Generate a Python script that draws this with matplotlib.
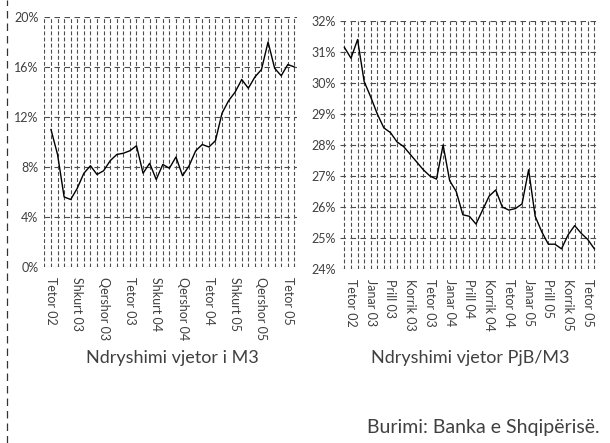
import matplotlib
matplotlib.use("Agg")
import matplotlib.pyplot as plt
from matplotlib.lines import Line2D
import numpy as np

plt.rcParams['font.family'] = ['Lato', 'DejaVu Sans']

# Left chart: annual change of M3 (%), monthly from Tetor 02
m3_months = list(range(0, 38))
m3_values = [11.0, 9.0, 5.6, 5.4, 6.3, 7.5, 8.1, 7.4, 7.7, 8.5,
             9.0, 9.1, 9.3, 9.7, 7.5, 8.3, 7.0, 8.2, 7.9, 8.8,
             7.3, 8.1, 9.3, 9.8, 9.6, 10.1, 12.3, 13.3, 14.0, 15.0,
             14.3, 15.2, 15.8, 18.0, 15.9, 15.3, 16.2, 16.0]
m3_tick_pos = [0, 4, 8, 12, 16, 20, 24, 28, 32, 36]
m3_tick_labels = ["Tetor 02", "Shkurt 03", "Qershor 03", "Tetor 03", "Shkurt 04",
                  "Qershor 04", "Tetor 04", "Shkurt 05", "Qershor 05", "Tetor 05"]
m3_yticks = [0, 4, 8, 12, 16, 20]

# Right chart: PjB/M3 (%)
pjb_months = list(range(-1, 38))
pjb_values = [31.15, 30.8, 31.4, 30.05, 29.55, 29.0, 28.55, 28.4, 28.1, 27.95,
              27.7, 27.45, 27.2, 27.0, 26.9, 28.0, 26.85, 26.5, 25.75, 25.7,
              25.45, 25.9, 26.35, 26.55, 26.0, 25.9, 25.95, 26.1, 27.2, 25.7,
              25.2, 24.8, 24.8, 24.65, 25.1, 25.4, 25.15, 24.95, 24.65]
pjb_tick_pos = [0, 3, 6, 9, 12, 15, 18, 21, 24, 27, 30, 33, 36]
pjb_tick_labels = ["Tetor 02", "Janar 03", "Prill 03", "Korrik 03", "Tetor 03",
                   "Janar 04", "Prill 04", "Korrik 04", "Tetor 04", "Janar 05",
                   "Prill 05", "Korrik 05", "Tetor 05"]
pjb_yticks = [24, 25, 26, 27, 28, 29, 30, 31, 32]

W, H = 610, 443
fig = plt.figure(figsize=(W / 100, H / 100), dpi=100)
fig.patch.set_facecolor('white')

def px_axes(x0, y0, x1, y1):
    return fig.add_axes([x0 / W, 1 - y1 / H, (x1 - x0) / W, (y1 - y0) / H])

txt_color = '#404040'
grid_color = '#4d4d4d'

def style(ax, xlim, ylim, yticks, xt, xl, ypad):
    ax.set_xlim(*xlim)
    ax.set_ylim(*ylim)
    for s in ax.spines.values():
        s.set_visible(False)
    # vertical monthly dashed gridlines
    for m in range(int(np.ceil(xlim[0])), int(np.floor(xlim[1])) + 1):
        ax.axvline(m, color=grid_color, lw=0.8, ls=(0, (3.5, 2)), zorder=1)
    for y in yticks:
        ax.axhline(y, color=grid_color, lw=0.8, ls=(0, (5, 4)), zorder=1)
    ax.set_yticks(yticks)
    ax.set_yticklabels([f"{v}%" for v in yticks])
    ax.set_xticks(xt)
    ax.set_xticklabels(xl, rotation=-90, va='top', ha='center')
    ax.tick_params(axis='both', length=0, colors=txt_color, labelsize=9)
    ax.tick_params(axis='x', pad=7)
    ax.tick_params(axis='y', pad=ypad)

ax1 = px_axes(44, 17, 297, 267)
style(ax1, (-1.06, 37.4), (0, 20), m3_yticks, m3_tick_pos, m3_tick_labels, 4)
ax1.plot(m3_months, m3_values, color='black', lw=1.0, zorder=3)

ax2 = px_axes(340, 21, 599, 269)
style(ax2, (-1.67, 37.7), (24, 32), pjb_yticks, pjb_tick_pos, pjb_tick_labels, 3)
ax2.plot(pjb_months, pjb_values, color='black', lw=1.0, zorder=3)

fig.text(172 / W, 1 - 358 / H, "Ndryshimi vjetor i M3", ha='center', va='center',
         fontsize=13, color=txt_color)
fig.text(470 / W, 1 - 358 / H, "Ndryshimi vjetor PjB/M3", ha='center', va='center',
         fontsize=13, color=txt_color)
fig.text(600 / W, 1 - 427 / H, "Burimi: Banka e Shqipërisë.", ha='right', va='center',
         fontsize=14, color=txt_color)

# dashed frame line at left
fig.add_artist(Line2D([7 / W, 7 / W], [0, 1], transform=fig.transFigure,
                      color='#333333', lw=0.9, ls=(0, (6, 4))))

fig.savefig("out.png", dpi=100, facecolor='white')
